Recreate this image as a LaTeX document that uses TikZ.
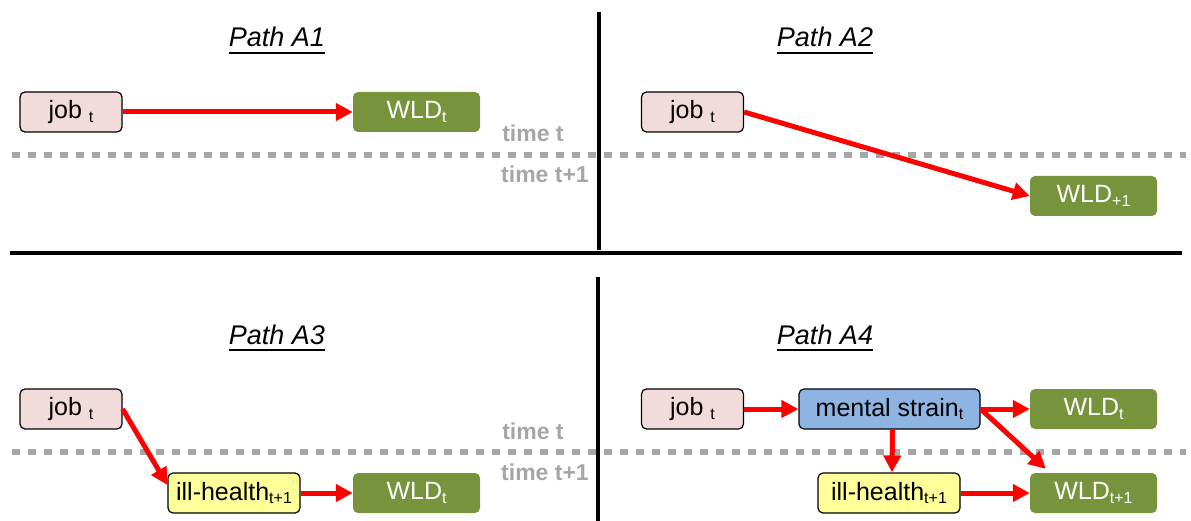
\documentclass[tikz,border=0pt]{standalone}
\usepackage{fontspec}
\setmainfont{Liberation Sans}
\usetikzlibrary{arrows.meta}
\definecolor{jobfill}{HTML}{F2DCDB}
\definecolor{wldfill}{HTML}{77933C}
\definecolor{illfill}{HTML}{FFFF99}
\definecolor{msfill}{HTML}{8EB4E3}
\definecolor{timegray}{HTML}{A6A6A6}
\newcommand\lsub[1]{\raisebox{-0.3ex}{\fontsize{16}{16}\selectfont #1}}
\tikzset{
  box/.style={rounded corners=5pt, minimum height=40pt, inner sep=0pt, align=center,
    font=\fontsize{25}{27}\selectfont},
  jobbox/.style={box, draw=black, line width=1.2pt, fill=jobfill, minimum width=102pt},
  wldbox/.style={box, fill=wldfill, text=white, minimum width=127pt},
  illbox/.style={box, draw=black, line width=1.2pt, fill=illfill},
  msbox/.style={box, draw=black, line width=1.2pt, fill=msfill, minimum width=181pt},
  redarrow/.style={draw=red, line width=5pt, -{Triangle[length=17pt,width=17pt]}},
  sepline/.style={line width=4pt, black},
  timeline/.style={line width=6.5pt, timegray, dash pattern=on 7.5pt off 8.5pt},
  timelabel/.style={text=timegray, font=\fontsize{23}{26}\selectfont\bfseries, anchor=base, inner sep=0pt},
  titlenode/.style={font=\fontsize{27}{30}\selectfont\itshape, anchor=base, inner sep=0pt},
  underl/.style={line width=2.5pt, black}
}
\begin{document}
\begin{tikzpicture}[x=1pt,y=-1pt]
\useasboundingbox (0,0) rectangle (1191,521);
% separators
\draw[sepline] (599,12) -- (599,250);
\draw[sepline] (598,277) -- (598,521);
\draw[sepline] (10,253) -- (1182,253);
% time lines
\draw[timeline] (12,155) -- (1186,155);
\draw[timeline] (12,452) -- (1186,452);
\node[timelabel] (tt1) at (533,142) {time t};
\node[timelabel] (tt2) at (545,183) {time t+1};
\node[timelabel] (tt3) at (533,439) {time t};
\node[timelabel] (tt4) at (545,480) {time t+1};
% titles
\node[titlenode] (ta1) at (277,47) {Path A1};
\node[titlenode] (ta2) at (825,47) {Path A2};
\node[titlenode] (ta3) at (277,344) {Path A3};
\node[titlenode] (ta4) at (825,344) {Path A4};
\foreach \t in {ta1,ta2,ta3,ta4}{
  \draw[underl] ([yshift=-6pt]\t.base west) -- ([yshift=-6pt]\t.base east);
}
% Path A1
\node[jobbox] (job1) at (71,112) {job \lsub{t}};
\node[wldbox] (wld1) at (416.5,112) {WLD\lsub{t}};
\draw[redarrow] (job1.east) -- (wld1.west);
% Path A2
\node[jobbox] (job2) at (692.5,112) {job \lsub{t}};
\node[wldbox] (wld2) at (1093.5,196) {WLD\lsub{+1}};
\draw[redarrow] (job2.east) -- (wld2.west);
% Path A3
\node[jobbox] (job3) at (71,409) {job \lsub{t}};
\node[illbox, minimum width=132pt] (ill3) at (234,493) {ill-health\lsub{t+1}};
\node[wldbox] (wld3) at (416.5,493) {WLD\lsub{t}};
\draw[redarrow] (job3.east) -- ([yshift=8pt]ill3.west);
\draw[redarrow] (ill3.east) -- (wld3.west);
% Path A4
\node[jobbox] (job4) at (692.5,409) {job \lsub{t}};
\node[msbox] (ms4) at (889.5,409) {mental strain\lsub{t}};
\node[wldbox] (wld4a) at (1093.5,409) {WLD\lsub{t}};
\node[illbox, minimum width=142pt] (ill4) at (889,493) {ill-health\lsub{t+1}};
\node[wldbox] (wld4b) at (1093.5,493) {WLD\lsub{t+1}};
\draw[redarrow] (job4.east) -- (ms4.west);
\draw[redarrow] (ms4.east) -- (wld4a.west);
\draw[redarrow] (ms4.east) -- ([xshift=16pt,yshift=4pt]wld4b.north west);
\draw[redarrow] ([xshift=3pt]ms4.south) -- ([xshift=3pt]ill4.north);
\draw[redarrow] (ill4.east) -- (wld4b.west);
\end{tikzpicture}
\end{document}
